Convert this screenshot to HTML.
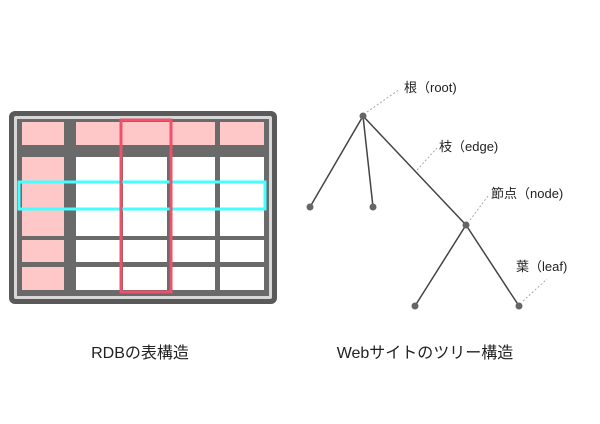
<!DOCTYPE html>
<html><head><meta charset="utf-8"><style>
body{margin:0;background:#fff;width:600px;height:419px;overflow:hidden}
text{font-family:"Liberation Sans","Noto Sans CJK JP",sans-serif;fill:#222}
</style></head><body>
<svg width="600" height="419" viewBox="0 0 600 419">
<rect x="9" y="111" width="268" height="193" rx="6" fill="#5a5a5a"/>
<rect x="14" y="116" width="258" height="183" rx="2" fill="#d8d8d8"/>
<rect x="17" y="119" width="252" height="177" fill="#6a6a6a"/>
<g fill="#ffc8c8">
<rect x="22" y="122" width="42" height="23"/>
<rect x="76" y="122" width="139" height="23"/>
<rect x="220" y="122" width="44" height="23"/>
<rect x="22" y="157" width="42" height="79"/>
<rect x="22" y="240" width="42" height="22"/>
<rect x="22" y="267" width="42" height="23"/>
</g>
<g fill="#fff">
<rect x="76" y="157" width="44" height="79"/><rect x="123" y="157" width="44" height="79"/><rect x="172" y="157" width="43" height="79"/><rect x="220" y="157" width="44" height="79"/>
<rect x="76" y="240" width="44" height="22"/><rect x="123" y="240" width="44" height="22"/><rect x="172" y="240" width="43" height="22"/><rect x="220" y="240" width="44" height="22"/>
<rect x="76" y="267" width="44" height="23"/><rect x="123" y="267" width="44" height="23"/><rect x="172" y="267" width="43" height="23"/><rect x="220" y="267" width="44" height="23"/>
</g>
<rect x="19" y="182" width="246" height="27" fill="none" stroke="#4ff" stroke-width="3"/>
<rect x="121" y="120" width="50" height="172" fill="none" stroke="#f0506a" stroke-width="3"/>
<g stroke="#444" stroke-width="1.5">
<line x1="363" y1="116" x2="310" y2="207"/><line x1="363" y1="116" x2="373" y2="207"/><line x1="363" y1="116" x2="466" y2="225"/>
<line x1="466" y1="225" x2="415" y2="306"/><line x1="466" y1="225" x2="519" y2="306"/>
</g>
<g stroke="#aaa" stroke-dasharray="2,2" fill="none">
<line x1="367" y1="112" x2="400" y2="89"/><line x1="417" y1="170" x2="437" y2="148"/>
<line x1="470" y1="220" x2="488" y2="196"/><line x1="523" y1="301" x2="547" y2="279"/>
</g>
<g fill="#666"><circle cx="363" cy="116" r="3.5"/><circle cx="310" cy="207" r="3.5"/><circle cx="373" cy="207" r="3.5"/><circle cx="466" cy="225" r="3.5"/><circle cx="415" cy="306" r="3.5"/><circle cx="519" cy="306" r="3.5"/></g>
<g font-size="13"><text x="404" y="92">根（root)</text><text x="439" y="151">枝（edge)</text><text x="491" y="198">節点（node)</text><text x="516" y="271">葉（leaf)</text></g>
<text x="140" y="358" font-size="16" text-anchor="middle">RDBの表構造</text>
<text x="425" y="358" font-size="16" text-anchor="middle">Webサイトのツリー構造</text>
</svg></body></html>
